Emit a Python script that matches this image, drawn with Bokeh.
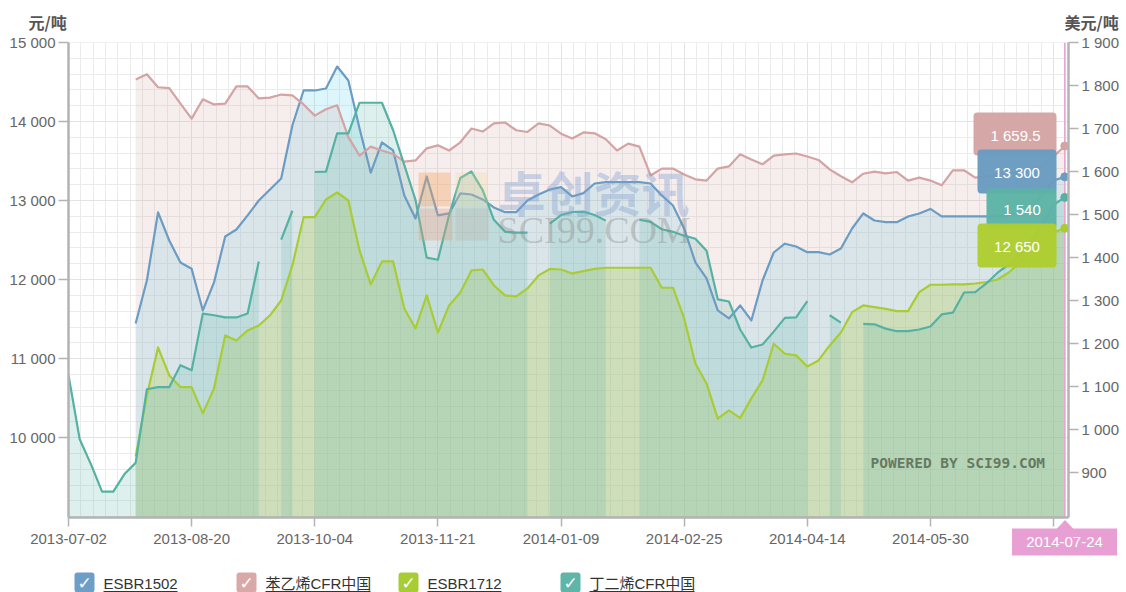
import math
from bokeh.plotting import figure
from bokeh.models import (Range1d, LinearAxis, FixedTicker, Label, BoxAnnotation, Grid,
                          PolyAnnotation)
from bokeh.core.properties import value
from bokeh.embed import file_html
from bokeh.resources import INLINE

NaN = float("nan")

# ---------------- data ----------------
# trading-day offset of each sample (one sample every third trading day from 2013-07-02)
days = list(range(0, 270, 3))

x_tick_days = [0, 33, 66, 99, 132, 165, 198, 231, 264]
x_tick_labels = ["2013-07-02", "2013-08-20", "2013-10-04", "2013-11-21", "2014-01-09",
                 "2014-02-25", "2014-04-14", "2014-05-30", "2014-07-16"]
left_ticks = [10000, 11000, 12000, 13000, 14000, 15000]
left_labels = ["10 000", "11 000", "12 000", "13 000", "14 000", "15 000"]
right_ticks = [900, 1000, 1100, 1200, 1300, 1400, 1500, 1600, 1700, 1800, 1900]
right_labels = ["900", "1 000", "1 100", "1 200", "1 300", "1 400", "1 500", "1 600", "1 700", "1 800", "1 900"]

names = ["ESBR1502", "苯乙烯CFR中国", "ESBR1712", "丁二烯CFR中国"]
last_labels = ["13 300", "1 659.5", "12 650", "1 540"]
last_date = "2014-07-24"
axis_titles = ["元/吨", "美元/吨"]

# ESBR1502, yuan/t (left axis)
esbr1502 = [NaN, NaN, NaN, NaN, NaN, NaN,
            11445, 11989, 12850, 12495, 12217, 12137, 11610, 11964, 12546, 12634,
            12812, 13001, 13140, 13280, 13950, 14393, 14393, 14418, 14696, 14519,
            13912, 13355, 13735, 13634, 13065, 12774, 13305, 12812, 12837, 13090,
            13077, 13014, 12913, 12853, 12853, 13001, 13077, 13140, 13170, 13052,
            13094, 13216, 13233, 13233, 13233, 13233, 13216, 13065, 12938, 12647,
            12217, 12015, 11610, 11509, 11673, 11483, 11989, 12343, 12454, 12419,
            12347, 12347, 12318, 12394, 12647, 12837, 12748, 12727, 12727, 12799,
            12837, 12894, 12800, 12800, 12800, 12800, 12800, 12800, 12812, 12850,
            12938, 13065, 13254, 13300]

# styrene CFR China, USD/t (right axis)
styrene = [NaN, NaN, NaN, NaN, NaN, NaN,
           1814, 1826, 1796, 1794, 1758, 1723, 1768, 1756, 1758, 1798,
           1798, 1770, 1772, 1779, 1777, 1756, 1730, 1745, 1754, 1680,
           1637, 1658, 1649, 1641, 1623, 1626, 1654, 1661, 1649, 1668,
           1700, 1693, 1712, 1714, 1696, 1692, 1712, 1707, 1688, 1677,
           1691, 1689, 1675, 1649, 1665, 1658, 1591, 1607, 1607, 1593,
           1582, 1579, 1607, 1612, 1640, 1628, 1617, 1637, 1640, 1642,
           1635, 1627, 1605, 1589, 1575, 1595, 1600, 1596, 1599, 1579,
           1586, 1579, 1568, 1603, 1603, 1586, 1589, 1593, 1595, 1600,
           1605, 1612, 1635, 1659.5]

# ESBR1712, yuan/t (left axis)
esbr1712 = [NaN, NaN, NaN, NaN, NaN, NaN,
            9763, 10535, 11142, 10788, 10640, 10640, 10307, 10623, 11294, 11230,
            11357, 11420, 11547, 11736, 12179, 12790, 12790, 13014, 13102, 13001,
            12369, 11939, 12230, 12230, 11635, 11382, 11800, 11331, 11673, 11837,
            12116, 12128, 11926, 11800, 11787, 11888, 12053, 12135, 12128, 12078,
            12107, 12135, 12150, 12150, 12150, 12150, 12150, 11897, 11897, 11509,
            10939, 10686, 10240, 10345, 10247, 10497, 10724, 11189, 11062, 11041,
            10901, 10977, 11167, 11331, 11588, 11673, 11651, 11629, 11601, 11601,
            11841, 11935, 11935, 11939, 11939, 11951, 11968, 12002, 12090, 12217,
            12343, 12457, 12596, 12650]

# butadiene CFR China, USD/t (right axis)
butadiene = [1127, 978, 920, 856, 856, 897, 923, 1094, 1099, 1099,
             1150, 1138, 1270, 1266, 1261, 1261, 1270, 1391, NaN, 1442,
             1509, NaN, 1599, 1600, 1689, 1689, 1760, 1760, 1760, 1696,
             1615, 1534, 1400, 1395, 1499, 1585, 1600, 1557, 1488, 1460,
             1458, 1458, NaN, 1479, 1499, 1506, 1507, 1499, 1486, NaN,
             NaN, 1488, 1483, 1466, 1460, 1451, 1444, 1416, 1303, 1298,
             1233, 1191, 1198, 1228, 1260, 1261, 1299, NaN, 1266, 1249,
             NaN, 1246, 1245, 1235, 1229, 1229, 1233, 1240, 1268, 1272,
             1319, 1320, 1340, 1365, 1384, 1407, 1442, 1476, 1523, 1540]

# ---------------- styling ----------------
LINE = ["#6b9cc3", "#d4a3a3", "#a8cc33", "#55b2a3"]
FILL = ["#4fd0ea", "#d4a3a3", "#aacc33", "#5ab3a5"]
FILL_ALPHA = [0.2, 0.2, 0.25, 0.2]
BOX = ["#6a9bc1", "#d4a4a4", "#aecd30", "#5db3a6"]
LEG_COLORS = ["#6d9ec7", "#d9a9a9", "#a8cc33", "#5eb5a8"]
AXIS_GRAY = "#b3b3b3"
LABEL_GRAY = "#666666"

series = [esbr1502, styrene, esbr1712, butadiene]
on_right = [False, True, False, True]

# value extents of the plotting area
Y0, Y1 = 8990, 15000      # yuan/t
R0, R1 = 796, 1900        # USD/t
XMAX = 268                # trading days

# where the plotting area sits on the page (pixels); the frame fills the whole canvas
FX0, FX1, FY0, FY1 = 68.0, 1068.0, 42.0, 517.0
PAGE_W, PAGE_H = 1126, 592

def px_x(px):
    return (px - FX0) / (FX1 - FX0) * XMAX
def px_y(py):
    return Y1 - (py - FY0) / (FY1 - FY0) * (Y1 - Y0)
def px_r(py):
    return R1 - (py - FY0) / (FY1 - FY0) * (R1 - R0)

p = figure(width=PAGE_W, height=PAGE_H, output_backend="svg", toolbar_location=None,
           x_range=Range1d(px_x(0), px_x(PAGE_W)), y_range=Range1d(px_y(PAGE_H), px_y(0)),
           x_axis_type=None, y_axis_type=None, min_border=0,
           background_fill_color="white", border_fill_color="white")
p.extra_y_ranges = {"usd": Range1d(px_r(PAGE_H), px_r(0))}
p.outline_line_color = None

# grids (major + minor), clipped to the plotting area by white masks below
x_minor = [round(k * 3.3, 2) for k in range(0, 82)]
y_minor = list(range(9000, 15001, 200))
for dim, tk, mn in ((0, x_tick_days, x_minor), (1, left_ticks, y_minor)):
    p.add_layout(Grid(dimension=dim, ticker=FixedTicker(ticks=tk, minor_ticks=mn),
                      grid_line_color="#e3e3e3", grid_line_width=1,
                      minor_grid_line_color="#ebebeb", minor_grid_line_width=1))

for kw in (dict(bottom=Y1), dict(top=Y0), dict(right=0), dict(left=XMAX)):
    p.add_layout(BoxAnnotation(fill_color="white", fill_alpha=1.0, line_color=None, level="glyph", **kw))

# axes, pinned to the edges of the plotting area
xa = LinearAxis(fixed_location=Y0, bounds=(0, XMAX),
                ticker=FixedTicker(ticks=x_tick_days, minor_ticks=[]),
                major_label_overrides=dict(zip(x_tick_days, x_tick_labels)),
                major_tick_out=9, major_label_standoff=7)
ya = LinearAxis(fixed_location=0, bounds=(Y0, Y1),
                ticker=FixedTicker(ticks=left_ticks, minor_ticks=[]),
                major_label_overrides=dict(zip(left_ticks, left_labels)),
                major_tick_out=10, major_label_standoff=3)
ra = LinearAxis(fixed_location=XMAX, bounds=(R0, R1), y_range_name="usd",
                ticker=FixedTicker(ticks=right_ticks, minor_ticks=[]),
                major_label_overrides=dict(zip(right_ticks, right_labels)),
                major_tick_out=10, major_label_standoff=3)
for ax in (xa, ya, ra):
    ax.axis_line_color = AXIS_GRAY
    ax.axis_line_width = 2.5
    ax.major_tick_line_color = AXIS_GRAY
    ax.major_tick_line_width = 1.5
    ax.major_tick_in = 0
    ax.minor_tick_line_color = None
    ax.major_label_text_font = "Liberation Sans"
    ax.major_label_text_font_size = "15px"
    ax.major_label_text_color = LABEL_GRAY
p.add_layout(xa, "below")
p.add_layout(ya, "left")
p.add_layout(ra, "right")


def runs(vals):
    out, cur = [], []
    for i, v in enumerate(vals):
        if math.isnan(v):
            if cur:
                out.append(cur)
            cur = []
        else:
            cur.append(i)
    if cur:
        out.append(cur)
    return out


# area fills, cut at gaps
for vals, right, fc, fa in zip(series, on_right, FILL, FILL_ALPHA):
    base = R0 if right else Y0
    kw = {"y_range_name": "usd"} if right else {}
    for seg in runs(vals):
        if len(seg) < 2:
            continue
        p.varea(x=[days[i] for i in seg], y1=[base] * len(seg), y2=[vals[i] for i in seg],
                fill_color=fc, fill_alpha=fa, **kw)

# lines
for vals, right, lc in zip(series, on_right, LINE):
    kw = {"y_range_name": "usd"} if right else {}
    p.line(x=days, y=vals, line_color=lc, line_width=2.2, line_join="round", **kw)

# crosshair at the last date
p.segment(x0=[days[-1]], y0=[Y0], x1=[days[-1]], y1=[Y1], line_color="#e9a3d3", line_width=1.5)

# end-point markers
for vals, right, lc in zip(series, on_right, LINE):
    kw = {"y_range_name": "usd"} if right else {}
    p.scatter(x=[days[-1]], y=[vals[-1]], size=8, fill_color=lc, line_color=lc, **kw)


def add_box(l, r, t, b, **props):
    p.add_layout(BoxAnnotation(left=px_x(l), right=px_x(r), top=px_y(t), bottom=px_y(b),
                               line_color=None, **props))

def add_label(x, y, text, **props):
    p.add_layout(Label(x=px_x(x), y=px_y(y), text=text, **props))

# watermark
for (l, r, t, b, c, a) in [(418, 450, 172, 206, "#f4a460", 0.38),
                           (455, 487, 172, 206, "#f0d890", 0.25),
                           (418, 452, 208, 240, "#e0a080", 0.35),
                           (455, 488, 208, 240, "#b0a090", 0.22)]:
    add_box(l, r, t, b, fill_color=c, fill_alpha=a)
add_label(497, 190, "卓创资讯", text_align="left", text_baseline="middle",
          text_font="Noto Sans CJK SC", text_font_style="bold", text_font_size="48px",
          text_color="#7d9fd0", text_alpha=0.38)
add_label(497, 229, "SCI99.COM", text_align="left", text_baseline="middle",
          text_font="Liberation Serif", text_font_size="38px", text_color="#8a8a8a", text_alpha=0.4)
add_label(870, 462, "POWERED BY SCI99.COM", text_align="left", text_baseline="middle",
          text_font="DejaVu Sans Mono", text_font_style="bold", text_font_size="14.5px",
          text_color="#667a62")

# tooltip boxes at the last point
tips = [  # (series index, left, right, top, bottom, text x, text y) in page pixels
    (1, 973, 1056, 112, 155, 1015, 135),
    (0, 977, 1056, 149, 193, 1016.5, 172),
    (3, 986, 1056, 188, 228, 1021.5, 209),
    (2, 977, 1056, 223, 267, 1016.5, 246),
]
for (si, l, r, t, b, tx, ty) in tips:
    add_box(l, r, t, b, fill_color=BOX[si], fill_alpha=0.97, border_radius=4)
    add_label(tx, ty, last_labels[si], text_align="center", text_baseline="middle",
              text_font="Liberation Sans", text_font_size="15px", text_color="white")

# axis titles
for x, t in zip([28, 1064], axis_titles):
    add_label(x, 21.5, t, text_align="left", text_baseline="middle", text_font="Noto Sans CJK SC",
              text_font_style="bold", text_font_size="16px", text_color="#555555")

# crosshair date label
add_box(1011.5, 1116.5, 528, 555, fill_color="#e8a0d4", fill_alpha=1.0)
p.add_layout(PolyAnnotation(xs=[px_x(1056), px_x(1064.5), px_x(1073)],
                            ys=[px_y(528.5), px_y(519.5), px_y(528.5)],
                            fill_color="#e8a0d4", fill_alpha=1.0, line_color=None))
add_label(1064, 541.5, last_date, text_align="center", text_baseline="middle",
          text_font="Liberation Sans", text_font_size="15px", text_color="white")

# legend
box_left = [74, 236, 398, 560]
text_w = [74, 105, 74, 105]
for bl, c, w in zip(box_left, LEG_COLORS, text_w):
    add_box(bl, bl + 20, 572, 592, fill_color=c, fill_alpha=1.0, border_radius=3)
    add_box(bl + 29, bl + 29 + w, 590.4, 591.5, fill_color="#333333", fill_alpha=1.0)
    add_label(bl + 10, 582, "✓", text_align="center", text_baseline="middle", text_color="white",
              text_font="DejaVu Sans", text_font_style="bold", text_font_size="17px")
for bl, nm in zip(box_left, names):
    add_label(bl + 29, 583, nm, text_align="left", text_baseline="middle", text_color="#333333",
              text_font="Liberation Sans, Noto Sans CJK SC", text_font_size="15px")

open("out.html", "w").write(file_html(p, INLINE))
